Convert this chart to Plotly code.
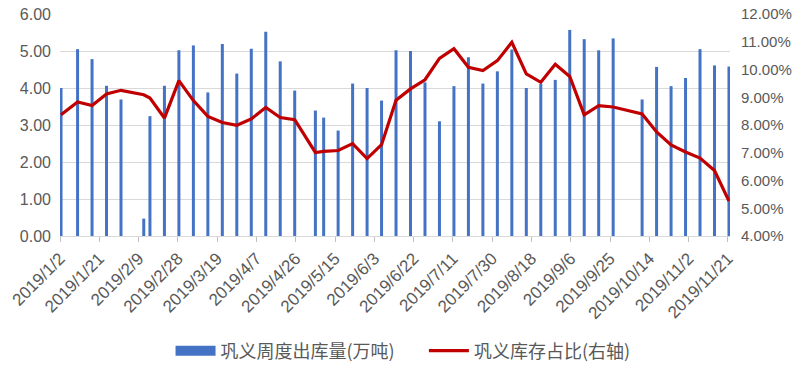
import plotly.graph_objects as go

dates = ["2019-01-02","2019-01-10","2019-01-17","2019-01-24","2019-01-31","2019-02-11","2019-02-14",
         "2019-02-21","2019-02-28","2019-03-07","2019-03-14","2019-03-21","2019-03-28","2019-04-04",
         "2019-04-11","2019-04-18","2019-04-25","2019-05-05","2019-05-09","2019-05-16","2019-05-23",
         "2019-05-30","2019-06-06","2019-06-13","2019-06-20","2019-06-27","2019-07-04","2019-07-11",
         "2019-07-18","2019-07-25","2019-08-01","2019-08-08","2019-08-15","2019-08-22","2019-08-29",
         "2019-09-05","2019-09-12","2019-09-19","2019-09-26","2019-10-10","2019-10-17","2019-10-24",
         "2019-10-31","2019-11-07","2019-11-14","2019-11-21"]

outbound = [4.00,5.05,4.78,4.06,3.69,0.47,3.24,4.06,5.02,5.15,3.88,5.19,4.39,5.06,5.52,4.72,
            3.93,3.39,3.20,2.85,4.12,4.00,3.66,5.02,5.00,4.15,3.10,4.05,4.83,4.12,4.45,5.04,
            4.00,4.11,4.22,5.57,5.32,5.02,5.34,3.69,4.57,4.05,4.27,5.05,4.61,4.58]

stock_ratio = [8.37,8.83,8.70,9.12,9.25,9.09,8.97,8.25,9.60,8.88,8.31,8.09,7.99,8.22,8.63,8.27,
               8.19,7.01,7.05,7.08,7.33,6.79,7.29,8.89,9.30,9.63,10.40,10.75,10.08,9.96,10.32,10.98,
               9.84,9.54,10.19,9.75,8.37,8.70,8.65,8.40,7.75,7.28,7.03,6.81,6.36,5.26]

tick_dates = ["2019-01-02","2019-01-21","2019-02-09","2019-02-28","2019-03-19","2019-04-07",
              "2019-04-26","2019-05-15","2019-06-03","2019-06-22","2019-07-11","2019-07-30",
              "2019-08-18","2019-09-06","2019-09-25","2019-10-14","2019-11-02","2019-11-21"]
tick_labels = ["2019/1/2","2019/1/21","2019/2/9","2019/2/28","2019/3/19","2019/4/7",
               "2019/4/26","2019/5/15","2019/6/3","2019/6/22","2019/7/11","2019/7/30",
               "2019/8/18","2019/9/6","2019/9/25","2019/10/14","2019/11/2","2019/11/21"]

series_names = ["巩义周度出库量(万吨)", "巩义库存占比(右轴)"]

DAY = 86400000
FONT = "Liberation Sans, Arial, Noto Sans CJK SC, sans-serif"
GREY = "#595959"
BLUE = "#4472C4"
RED = "#C00000"

fig = go.Figure()
fig.add_trace(go.Bar(
    x=dates, y=outbound, name=series_names[0], showlegend=False,
    marker=dict(color=BLUE, line=dict(width=0)),
    width=1.45 * DAY, xperiod=DAY, xperiodalignment="middle",
    yaxis="y",
))
# legend entry drawn as a wide block, like the original's legend key
fig.add_trace(go.Scatter(
    x=[dates[0]], y=[None], name=series_names[0] + "      ", mode="lines",
    line=dict(color=BLUE, width=12), yaxis="y", hoverinfo="skip",
))
fig.add_trace(go.Scatter(
    x=dates, y=stock_ratio, name=series_names[1], mode="lines",
    line=dict(color=RED, width=3.2),
    xperiod=DAY, xperiodalignment="middle",
    yaxis="y2",
))

fig.update_layout(
    width=800, height=371,
    margin=dict(l=60, r=70, t=14, b=135, autoexpand=False),
    paper_bgcolor="white", plot_bgcolor="white",
    font=dict(family=FONT, color=GREY, size=15),
    showlegend=True,
    legend=dict(orientation="h", x=0.512, xanchor="center", y=-0.518, yanchor="middle",
                font=dict(size=18, family="Noto Sans CJK SC, Liberation Sans, sans-serif", color=GREY),
                itemwidth=40, tracegroupgap=0),
    xaxis=dict(
        type="date", automargin=False,
        range=["2019-01-02", "2019-11-22"],
        tickmode="array", tickvals=tick_dates, ticktext=tick_labels,
        tickangle=-45, tickfont=dict(size=17, color=GREY),
        showgrid=False, zeroline=False,
        showline=True, linecolor="#D9D9D9", linewidth=1,
        ticks="outside", ticklen=5, tickcolor="#BFBFBF",
    ),
    yaxis=dict(
        automargin=False,
        range=[0, 6], dtick=1, tick0=0, tickformat=".2f",
        showgrid=True, gridcolor="#D9D9D9", gridwidth=1,
        zeroline=False, showline=False, ticks="",
        tickfont=dict(size=16, color=GREY), ticklabelstandoff=8,
        ticklabeloverflow="allow",
    ),
    yaxis2=dict(
        automargin=False,
        range=[4, 12], dtick=1, tick0=4, tickformat=".2f", ticksuffix="%",
        overlaying="y", side="right",
        showgrid=False, zeroline=False, showline=False, ticks="",
        tickfont=dict(size=15, color=GREY), ticklabelstandoff=10,
        ticklabeloverflow="allow",
    ),
)

fig.write_html("out.html", config={"displayModeBar": False},
               post_script="document.body.style.margin='0';document.body.style.overflow='hidden';")
